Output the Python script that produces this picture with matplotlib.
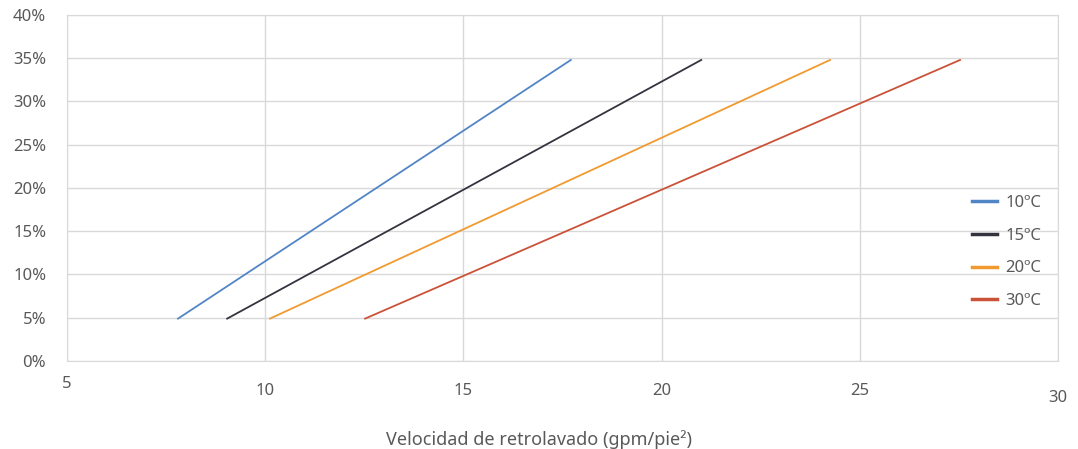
import matplotlib
matplotlib.use('Agg')
from matplotlib import pyplot as plt
from matplotlib.ticker import PercentFormatter

# datos (inicio y fin de cada recta)
temperaturas = ['10ºC', '15ºC', '20ºC', '30ºC']
velocidad_10 = [7.80, 17.71]
velocidad_15 = [9.04, 21.00]
velocidad_20 = [10.12, 24.25]
velocidad_30 = [12.52, 27.53]
expansion = [0.049, 0.348]

x_ticks = [5, 10, 15, 20, 25, 30]
y_ticks = [0, 0.05, 0.10, 0.15, 0.20, 0.25, 0.30, 0.35, 0.40]

colores = ['#5285c6', '#34343f', '#f09a30', '#cb5239']
gris = '#595959'

plt.rcParams['font.family'] = ['Noto Sans', 'DejaVu Sans']

fig = plt.figure(figsize=(10.78, 4.49), dpi=100)
ax = fig.add_axes([0.0622, 0.196, 0.9192, 0.7706])

series = [velocidad_10, velocidad_15, velocidad_20, velocidad_30]
for vel, etiqueta, color in zip(series, temperaturas, colores):
    ax.plot(vel, expansion, color=color, linewidth=1.3, label=etiqueta)

ax.set_xlim(5, 30)
ax.set_ylim(0, 0.40)
ax.set_xticks(x_ticks)
ax.set_yticks(y_ticks)
ax.yaxis.set_major_formatter(PercentFormatter(1.0, decimals=0))
ax.grid(True, color='#d9d9d9', linewidth=1)
ax.set_axisbelow(True)
for s in ax.spines.values():
    s.set_color('#d9d9d9')
ax.tick_params(length=0, labelsize=12, labelcolor=gris)
ax.tick_params(axis='y', pad=15)

# etiquetas del eje x escalonadas como en el original
pads = [11, 16, 16, 16, 16, 21]
for t, p in zip(ax.xaxis.get_major_ticks(), pads):
    t.set_pad(p)

ax.set_xlabel('Velocidad de retrolavado (gpm/pie²)', fontsize=13, color=gris,
              va='center')
ax.xaxis.set_label_coords(0.476, -0.228)

leg = ax.legend(loc='center left', bbox_to_anchor=(0.898, 0.315), frameon=False,
                fontsize=12, handlelength=1.5, labelspacing=1.0, handletextpad=0.5)
for h in leg.get_lines():
    h.set_linewidth(2.5)
for t in leg.get_texts():
    t.set_color(gris)

plt.savefig('out.png', dpi=100)
